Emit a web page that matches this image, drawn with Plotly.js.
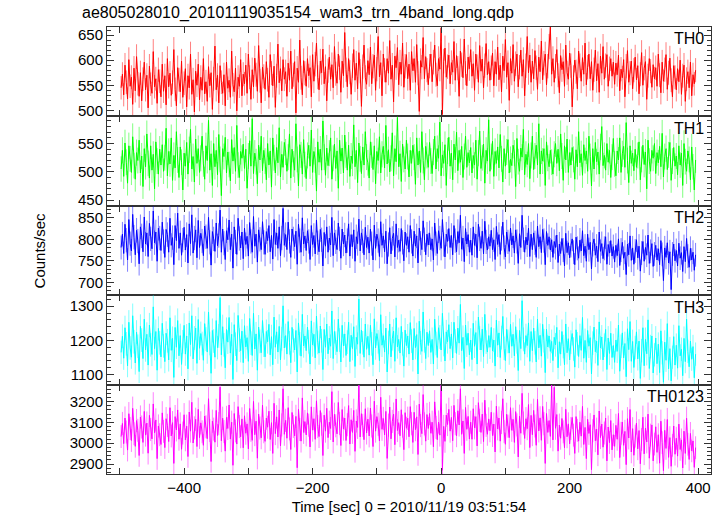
<!DOCTYPE html>
<html>
<head>
<meta charset="utf-8">
<script src="https://cdn.plot.ly/plotly-3.0.1.min.js"></script>
<style>html,body{margin:0;padding:0;background:#fff;}#chart{width:723px;height:516px;}</style>
</head>
<body>
<div id="chart"></div>
<script>
// Time grid of the light curve (seconds from 2010/11/19 03:51:54)
const timeStart = -498;
const timeStep = 2;

const seriesNames = ["TH0", "TH1", "TH2", "TH3", "TH0123"];
const xTickVals = [-400, -200, 0, 200, 400];

const th0 = [
545,572,531,590,556,523,601,548,566,512,584,539,607,553,528,575,
519,562,596,541,570,505,588,552,534,617,547,563,514,581,558,527,
592,538,569,511,603,547,574,530,556,621,542,509,585,561,537,598,
526,554,583,507,569,545,612,532,561,497,578,550,592,521,566,540,
603,533,557,518,587,549,575,502,563,628,541,570,515,589,556,534,
571,509,596,544,560,526,618,551,537,584,499,566,548,601,529,572,
553,590,534,612,566,522,581,547,604,571,538,629,559,515,586,568,
542,597,561,526,611,574,549,588,506,569,632,555,583,539,601,562,
577,528,594,560,618,543,571,597,495,584,556,640,565,531,599,574,
548,603,569,585,527,611,558,592,634,566,541,598,575,622,553,587,
519,579,606,562,591,545,627,573,554,612,585,536,598,569,655,581,
547,603,576,532,589,621,560,594,543,615,578,508,587,630,566,552,
599,571,626,553,588,610,540,582,647,567,595,529,612,580,556,603,
574,639,562,590,517,608,585,625,551,596,572,634,546,588,611,563,
592,540,617,579,603,556,631,574,498,599,586,645,563,607,580,551,
588,612,557,596,630,571,549,603,582,664,492,598,624,566,587,610,
553,595,576,637,560,609,584,528,618,591,565,642,574,549,606,583,
621,568,593,540,612,587,556,629,578,602,545,589,633,571,597,560,
585,614,549,597,572,626,561,590,537,608,579,641,566,595,520,603,
574,631,558,593,612,547,586,620,568,601,529,589,647,575,610,556,
598,563,619,585,542,606,577,638,561,594,612,551,588,627,666,572,
603,556,588,621,570,535,609,581,597,548,630,575,562,614,589,507,
566,600,577,543,618,589,558,605,572,634,551,586,612,563,597,540,
581,620,559,593,536,608,574,627,562,589,611,548,583,603,568,596,
552,594,571,610,539,582,565,601,527,588,619,556,574,598,543,580,
606,561,589,533,572,615,550,584,597,522,569,603,578,546,591,563,
585,548,612,570,535,596,558,581,611,542,575,604,560,527,589,566,
541,583,557,600,532,569,590,518,562,577,545,596,529,571,553,580
];

const th1 = [
505,538,492,551,517,480,546,523,499,562,511,487,534,520,556,498,
528,474,541,509,567,515,489,546,503,531,470,553,519,496,540,512,
548,501,525,577,493,536,514,560,485,529,507,571,521,490,544,517,
468,533,510,552,496,539,575,505,527,482,558,515,541,499,524,563,
514,487,546,520,591,503,532,476,550,509,538,495,566,522,458,541,
527,561,498,535,513,484,557,519,543,501,582,512,490,536,524,549,
506,540,471,528,555,510,594,497,533,518,479,547,521,563,502,538,
519,486,550,512,537,473,560,525,498,543,516,578,491,531,508,552,
535,501,526,567,489,540,514,503,585,522,475,548,530,496,557,513,
488,529,547,510,574,499,536,521,466,553,517,540,503,590,526,494,
542,511,533,560,487,524,549,506,537,471,556,519,542,498,565,530,
503,547,492,528,515,583,509,538,481,551,523,497,544,512,571,526,
516,489,553,530,504,546,479,536,520,562,498,531,545,507,582,514,
539,500,524,569,493,541,518,596,509,532,483,549,522,505,556,527,
491,538,515,547,526,478,560,512,537,499,571,520,486,545,529,508,
552,519,497,535,563,505,541,524,588,493,530,515,548,476,537,561,
510,533,486,549,521,570,502,538,517,545,490,527,563,508,534,516,
543,498,529,512,556,487,533,572,506,525,549,480,538,519,592,501,
527,554,492,536,515,544,507,566,523,482,541,510,535,557,498,522,
511,547,533,474,559,518,501,542,526,575,495,531,513,550,488,529,
563,504,528,547,512,585,496,537,519,541,476,553,524,509,538,517,
496,531,550,515,540,502,567,528,485,546,521,558,499,534,512,543,
522,487,539,509,571,516,532,494,548,520,537,501,563,527,475,541,
505,552,518,535,496,544,580,511,529,503,550,517,538,490,526,559,
514,493,537,521,560,499,532,545,508,587,520,481,546,515,533,502,
540,508,529,553,486,522,547,513,535,470,556,519,501,538,524,550,
497,534,516,545,509,568,491,527,541,504,530,552,485,519,543,510,
528,495,546,512,533,476,550,518,501,537,522,486,544,509,468,521
];

const th2 = [
781,812,767,835,798,752,846,790,773,858,805,764,821,796,743,829,
808,771,852,789,815,760,837,801,778,866,792,817,749,826,803,774,
840,795,758,823,811,770,849,786,804,741,832,797,861,779,815,763,
798,828,775,811,745,836,790,857,768,803,822,757,844,781,814,796,
762,831,806,779,851,793,740,818,801,772,838,785,809,868,770,824,
791,753,820,799,845,776,812,733,829,794,765,849,802,780,817,755,
826,788,807,761,839,795,770,853,784,812,747,822,800,776,841,793,
765,818,797,832,771,809,754,846,788,815,779,829,762,803,872,786,
811,776,840,795,758,824,801,783,819,742,835,797,770,850,789,808,
774,820,795,753,832,788,809,766,845,792,771,823,799,738,816,784,
829,770,803,787,851,762,815,794,776,838,801,756,824,789,810,768,
797,836,761,811,783,822,749,806,790,847,773,815,796,764,828,781,
805,768,824,790,752,833,779,812,797,760,841,786,808,771,819,743,
788,827,766,802,814,759,836,781,798,772,825,793,750,817,786,806,
770,832,795,761,819,784,808,745,826,791,776,843,799,764,812,787,
815,776,801,752,838,790,767,820,803,779,846,788,759,812,795,825,
781,809,764,832,797,771,818,792,856,777,803,748,825,789,811,770,
798,763,829,786,812,757,835,801,779,819,766,842,794,775,806,784,
821,776,799,753,830,788,811,765,802,840,781,759,817,794,772,826,
787,808,768,822,795,744,813,781,856,799,770,805,787,826,760,812,
776,815,792,758,831,783,806,769,823,797,741,818,786,806,775,799,
758,795,781,810,746,789,767,802,775,738,814,769,792,757,786,801,
770,741,805,779,756,798,773,820,762,784,749,812,776,793,731,788,
801,763,784,748,817,772,790,755,779,806,742,788,768,797,761,783,
747,786,762,801,739,775,793,756,770,718,789,764,808,751,780,742,
773,799,757,784,726,768,795,749,781,763,810,744,772,790,737,766,
786,752,778,741,797,765,704,780,758,792,745,771,683,766,789,750,
774,738,791,756,769,725,783,748,802,761,735,779,752,770,728,764
];

const th3 = [
1165,1212,1148,1237,1190,1126,1253,1178,1151,1272,1196,1134,1224,1183,1109,1241,
1201,1147,1262,1172,1218,1128,1245,1187,1159,1298,1176,1226,1113,1235,1193,1152,
1250,1184,1138,1221,1199,1143,1266,1171,1206,1092,1238,1180,1258,1155,1214,1130,
1196,1244,1160,1213,1117,1251,1188,1272,1146,1207,1236,1133,1261,1177,1220,1191,
1142,1249,1204,1166,1283,1191,1104,1229,1198,1151,1258,1179,1213,1325,1158,1240,
1187,1120,1232,1195,1267,1163,1218,1086,1246,1189,1141,1273,1201,1170,1227,1135,
1243,1181,1208,1139,1264,1192,1156,1279,1175,1219,1113,1239,1197,1164,1258,1186,
1152,1226,1196,1247,1158,1211,1129,1268,1180,1225,1166,1241,1143,1205,1301,1178,
1214,1160,1255,1193,1135,1238,1199,1172,1229,1108,1251,1190,1154,1276,1184,1213,
1170,1239,1196,1131,1257,1187,1218,1149,1271,1194,1163,1242,1199,1115,1232,1180,
1248,1161,1207,1183,1286,1147,1226,1192,1167,1262,1201,1137,1244,1184,1219,1156,
1195,1253,1138,1215,1176,1240,1124,1209,1189,1321,1162,1230,1193,1151,1248,1174,
1212,1157,1244,1190,1129,1263,1178,1220,1196,1141,1275,1186,1214,1166,1236,1108,
1194,1248,1152,1205,1227,1139,1266,1181,1203,1163,1241,1190,1125,1230,1185,1213,
1160,1252,1198,1143,1235,1179,1217,1102,1256,1193,1168,1283,1199,1147,1224,1185,
1228,1165,1203,1131,1262,1191,1150,1237,1210,1172,1279,1188,1140,1225,1196,1246,
1176,1219,1149,1253,1198,1162,1236,1192,1305,1170,1209,1118,1245,1186,1221,1158,
1201,1144,1250,1183,1223,1131,1268,1207,1172,1233,1153,1276,1195,1166,1214,1180,
1238,1169,1201,1125,1259,1186,1222,1150,1208,1270,1177,1141,1232,1197,1163,1247,
1183,1218,1155,1240,1196,1112,1229,1176,1316,1203,1160,1214,1185,1251,1139,1226,
1170,1236,1193,1137,1262,1178,1215,1154,1247,1199,1106,1233,1181,1213,1168,1197,
1141,1209,1187,1238,1120,1196,1160,1226,1182,1129,1248,1164,1205,1143,1195,1220,
1175,1122,1231,1190,1153,1214,1171,1267,1148,1200,1136,1229,1183,1208,1102,1192,
1239,1167,1198,1127,1254,1178,1210,1143,1186,1232,1115,1207,1162,1221,1150,1185,
1136,1201,1168,1245,1110,1183,1222,1149,1191,1094,1234,1173,1255,1139,1197,1121,
1179,1225,1146,1198,1089,1170,1237,1126,1203,1161,1260,1118,1182,1213,1105,1158,
1207,1132,1189,1106,1228,1164,1078,1195,1142,1249,1117,1176,1082,1151,1211,1128,
1186,1119,1243,1155,1174,1097,1206,1138,1262,1168,1123,1198,1145,1182,1091,1160
];

const th0123 = [
3032,3095,2998,3121,3054,2967,3142,3071,3013,3168,3046,2985,3109,3062,2941,3126,
3078,3004,3153,3039,3097,2952,3134,3066,3021,3189,3050,3112,2926,3083,3041,2994,
3146,3057,2979,3118,3086,3008,3171,3035,3099,2903,3128,3064,3160,3019,3093,2971,
3049,3137,3016,3082,2936,3150,3058,3197,3001,3074,3115,2984,3163,3027,3098,3055,
2990,3131,3079,3022,3214,3061,2912,3106,3068,3005,3158,3037,3094,3270,3012,3120,
3056,2962,3124,3071,3184,3020,3101,2894,3143,3059,2996,3176,3080,3031,3117,2978,
3132,3048,3093,2973,3167,3062,3014,3201,3041,3106,2928,3140,3073,3026,3183,3055,
3009,3121,3077,3154,3018,3099,2951,3192,3046,3127,3030,3160,2987,3088,3262,3043,
3110,3024,3171,3069,2970,3148,3081,3035,3129,2882,3163,3066,3010,3218,3052,3104,
3040,3146,3087,2982,3175,3063,3118,3019,3204,3080,3032,3157,3092,2941,3135,3058,
3168,3027,3101,3071,3248,3006,3139,3084,3045,3196,3095,2989,3162,3068,3121,3013,
3089,3181,2996,3113,3052,3158,2961,3107,3076,3279,3030,3142,3086,3017,3166,3049,
3116,3035,3169,3083,2984,3202,3058,3128,3091,3011,3221,3067,3119,3040,3153,2927,
3087,3174,3021,3105,3140,2993,3213,3061,3099,3036,3161,3082,2969,3147,3072,3120,
3031,3176,3094,3004,3149,3065,3127,2946,3188,3085,3046,3234,3093,3010,3138,3071,
3143,3048,3101,2983,3199,3076,3017,3102,3039,3281,2870,3081,3009,3135,3090,3163,
3058,3124,3012,3182,3094,3036,3156,3088,3262,3043,3107,2951,3172,3067,3129,3020,
3101,3019,3166,3074,3128,2987,3195,3110,3052,3140,3008,3207,3086,3043,3117,3060,
3149,3037,3092,2958,3178,3069,3121,3010,3100,3214,3056,2995,3139,3082,3027,3171,
3062,3115,3004,3152,3088,2934,3130,3048,3240,3097,3023,3118,3070,3186,2979,3134,
3041,3158,3083,2990,3211,3059,3122,3014,3177,3094,2903,3143,3052,3109,3033,3278,
3016,3269,3072,3138,2962,3087,3024,3119,3055,2978,3163,3031,3093,2997,3071,3124,
3039,2951,3128,3062,3010,3101,3034,3177,2994,3076,2926,3115,3047,3089,2873,3060,
3136,3012,3068,2944,3155,3027,3092,2981,3049,3121,2915,3078,3003,3109,2968,3041,
2985,3086,3019,3143,2931,3048,3102,2990,3057,2897,3118,3025,3162,2958,3070,2942,
3034,3097,2973,3061,2901,3018,3125,2949,3072,3006,3140,2928,3039,3088,2915,2996,
3079,2956,3041,2904,3106,3003,2868,3062,2975,3114,2932,3027,2889,2990,3083,2947,
3024,2938,3092,2970,3016,2881,3058,2951,3120,2995,2922,3047,2963,3011,2884,2979
];

const seriesValues = [th0, th1, th2, th3, th0123];
const lineColors = ["#ff0000", "#00ff00", "#0000ff", "#00ffff", "#ff00ff"];
const errColors = ["rgba(255,0,0,0.5)", "rgba(0,255,0,0.5)", "rgba(0,0,255,0.5)", "rgba(0,255,255,0.5)", "rgba(255,0,255,0.5)"];
const yRanges = [[488, 666], [440, 598], [670, 878], [1071, 1332], [2852, 3282]];
const yMajor = [50, 50, 50, 100, 100];
const yMinor = [10, 10, 10, 20, 20];

const font = "Liberation Sans, Arial, Helvetica, sans-serif";
const frameColor = "#333";
const nPanels = seriesNames.length;

const traces = [];
const layout = {
  width: 723, height: 516,
  margin: {l: 107, r: 12, t: 27, b: 42},
  paper_bgcolor: "#fff", plot_bgcolor: "#fff",
  showlegend: false,
  font: {family: font, size: 15, color: "#000"},
  annotations: [{
    text: "ae805028010_20101119035154_wam3_trn_4band_long.qdp",
    xref: "paper", yref: "paper", x: -0.045, y: 1.031,
    xanchor: "left", yanchor: "middle", showarrow: false,
    font: {family: font, size: 16, color: "#000"},
  }],
};

for (let i = 0; i < nPanels; i++) {
  const vals = seriesValues[i];
  const times = vals.map((_, k) => timeStart + k * timeStep);
  const sfx = i === 0 ? "" : String(i + 1);
  traces.push({
    type: "scatter", mode: "lines",
    x: times, y: vals,
    xaxis: "x" + sfx, yaxis: "y" + sfx,
    line: {color: lineColors[i], width: 1},
    error_y: {type: "sqrt", visible: true, color: errColors[i], thickness: 1, width: 0},
    hoverinfo: "skip",
  });
  const top = 1 - i / nPanels;
  const bot = 1 - (i + 1) / nPanels;
  const isBottom = i === nPanels - 1;
  layout["xaxis" + sfx] = {
    domain: [0, 1], anchor: "y" + sfx, range: [-520, 420],
    tickmode: "array", tickvals: xTickVals, showticklabels: isBottom,
    ticks: "inside", ticklen: 6, tickwidth: 1, tickcolor: frameColor,
    minor: {dtick: 100, tick0: 0, ticks: "inside", ticklen: 6, tickwidth: 1, tickcolor: frameColor},
    showline: true, linecolor: frameColor, linewidth: 1, mirror: "ticks",
    showgrid: false, zeroline: false,
    tickfont: {family: font, size: 15, color: "#000"},
  };
  if (i > 0) layout["xaxis" + sfx].matches = "x";
  if (isBottom) {
    layout["xaxis" + sfx].title = {text: "Time [sec] 0 = 2010/11/19 03:51:54", standoff: 6,
      font: {family: font, size: 15, color: "#000"}};
  }
  layout["yaxis" + sfx] = {
    domain: [bot, top], anchor: "x" + sfx, range: yRanges[i],
    dtick: yMajor[i], tick0: 0,
    ticks: "inside", ticklen: 7, tickwidth: 1, tickcolor: frameColor,
    minor: {dtick: yMinor[i], tick0: 0, ticks: "inside", ticklen: 4, tickwidth: 1, tickcolor: frameColor},
    showline: true, linecolor: frameColor, linewidth: 1, mirror: "ticks",
    showgrid: false, zeroline: false,
    tickfont: {family: font, size: 15, color: "#000"},
  };
  layout.annotations.push({
    text: seriesNames[i], xref: "paper", yref: "y" + sfx + " domain",
    x: 0.991, y: 0.985, xanchor: "right", yanchor: "top", showarrow: false,
    font: {family: font, size: 16, color: "#000"},
  });
}

layout.annotations.push({
  text: "Counts/sec", xref: "paper", yref: "paper", x: -0.111, y: 0.5,
  xanchor: "center", yanchor: "middle", textangle: -90, showarrow: false,
  font: {family: font, size: 15, color: "#000"},
});

Plotly.newPlot("chart", traces, layout, {staticPlot: true, displayModeBar: false});
</script>
</body>
</html>
